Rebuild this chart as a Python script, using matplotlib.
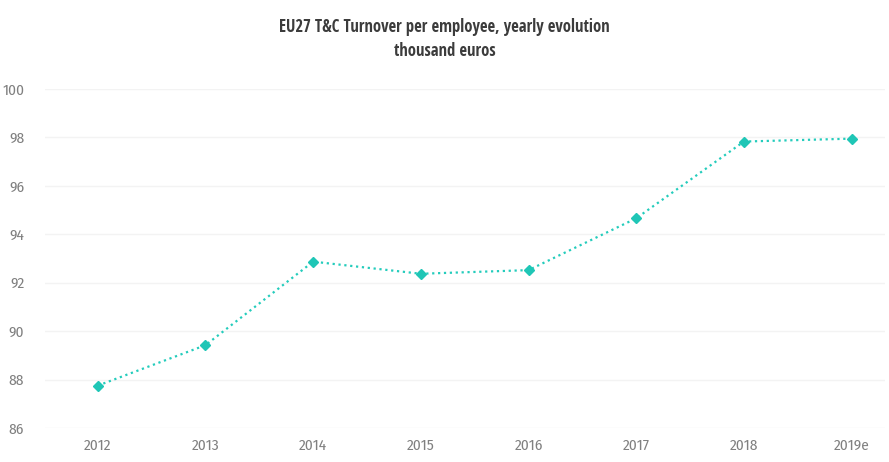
import matplotlib.pyplot as plt

years = ["2012", "2013", "2014", "2015", "2016", "2017", "2018", "2019e"]
turnover = [87.75, 89.42, 92.87, 92.37, 92.52, 94.66, 97.83, 97.95]
yticks = [86, 88, 90, 92, 94, 96, 98, 100]

plt.rcParams["font.family"] = ["Open Sans Condensed", "DejaVu Sans"]
tick_font = ["Fira Sans Condensed", "DejaVu Sans"]

fig = plt.figure(figsize=(8.89, 4.62), dpi=100)
ax = fig.add_axes([45 / 889, 34 / 462, 840 / 889, 339 / 462])

x = list(range(len(years)))
ax.plot(x, turnover, color="#24ccbc", linestyle=":", linewidth=1.6,
        marker="D", markersize=5.5, markerfacecolor="#1fc6b6", markeredgecolor="#1fc6b6")

ax.set_xlim(-0.49, 7.31)
ax.set_ylim(86, 100)
ax.set_xticks(x)
ax.set_xticklabels(years)
ax.set_yticks(yticks)
ax.grid(axis="y", color="#f3f3f3", linewidth=1)
ax.set_axisbelow(True)
for s in ax.spines.values():
    s.set_visible(False)
ax.tick_params(length=0, colors="#808080", labelsize=11)
for lab in ax.get_xticklabels() + ax.get_yticklabels():
    lab.set_family(tick_font)
    lab.set_fontweight("normal")
ax.tick_params(axis="x", pad=8)
ax.tick_params(axis="y", pad=15)

fig.text(0.5, 0.962, "EU27 T&C Turnover per employee, yearly evolution\nthousand euros",
         ha="center", va="top", fontsize=12, fontweight="bold", color="#3c3c3c",
         linespacing=1.45)

fig.savefig("out.png", dpi=100)
